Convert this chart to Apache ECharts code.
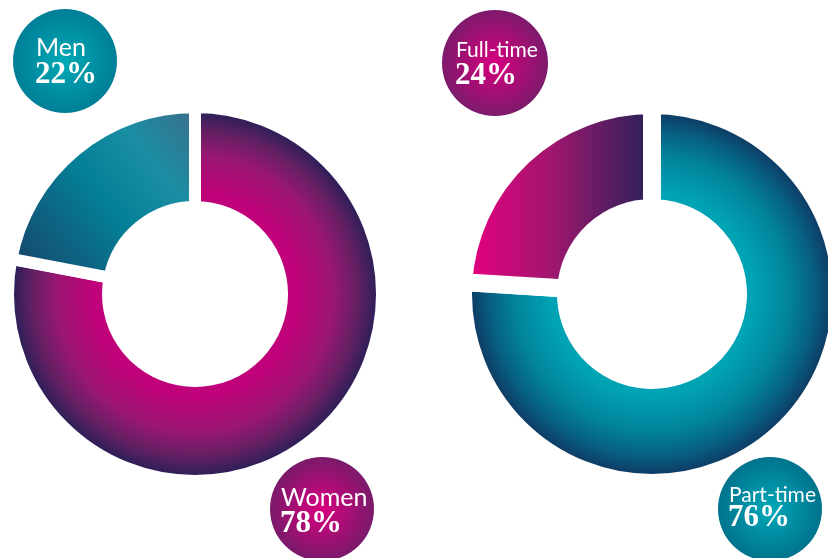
<!DOCTYPE html>
<html>
<head>
<meta charset="utf-8">
<script src="https://cdn.jsdelivr.net/npm/echarts@6/dist/echarts.min.js"></script>
<style>
html,body{margin:0;padding:0;background:#fff;}
#chart{width:828px;height:558px;}
</style>
</head>
<body>
<div id="chart"></div>
<script>
// ---- data ----
const genderCategories = ['Women', 'Men'];
const genderValues = [78, 22];
const contractCategories = ['Part-time', 'Full-time'];
const contractValues = [76, 24];

// ---- styling ----
const L = { cx: 195, cy: 294, R: 181, r: 93, gap: 12 };
const Rt = { cx: 652, cy: 294, R: 180, r: 95, gap: 18 };

function radial(c, stops) {
  return { type: 'radial', x: c.cx, y: c.cy, r: c.R, global: true,
    colorStops: stops.map(s => ({ offset: s[0], color: s[1] })) };
}
function bubbleFill(inner, outer) {
  return { type: 'radial', x: 0.5, y: 0.5, r: 0.5,
    colorStops: [{ offset: 0, color: inner }, { offset: 1, color: outer }] };
}

const genderColors = {
  Women: radial(L, [[0, '#c2007a'], [0.56, '#c0027a'], [0.76, '#9b1672'], [0.9, '#632063'], [1, '#2f1f58']]),
  Men: { type: 'linear', x: 20, y: 260, x2: 200, y2: 120, global: true,
    colorStops: [{ offset: 0, color: '#164a6e' }, { offset: 0.45, color: '#047f97' }, { offset: 0.72, color: '#1a8ea3' }, { offset: 1, color: '#3a6f8c' }] }
};
const contractColors = {
  'Part-time': radial(Rt, [[0, '#00a5b5'], [0.56, '#00a3b4'], [0.76, '#02849c'], [0.9, '#075f82'], [1, '#0e3d66']]),
  'Full-time': { type: 'linear', x: 472, y: 0, x2: 643, y2: 0, global: true,
    colorStops: [{ offset: 0, color: '#e2007f' }, { offset: 0.45, color: '#a3166f' }, { offset: 1, color: '#32205a' }] }
};

function pieSeries(c, cats, vals, colors) {
  return {
    type: 'pie',
    center: [c.cx, c.cy],
    radius: [c.r - c.gap / 2, c.R + c.gap / 2],
    startAngle: 90,
    clockwise: true,
    silent: true,
    label: { show: false },
    labelLine: { show: false },
    emphasis: { disabled: true },
    itemStyle: { borderColor: '#ffffff', borderWidth: c.gap },
    data: cats.map((n, i) => ({ name: n, value: vals[i], itemStyle: { color: colors[n] } }))
  };
}

function bubble(cx, cy, rad, fill, title, pct, tx, tfs, ty, py) {
  return [
    { type: 'circle', z: 100, shape: { cx: cx, cy: cy, r: rad }, style: { fill: fill } },
    { type: 'text', z: 101, x: tx, y: ty, style: { text: title, fill: '#ffffff',
      font: 'normal ' + tfs + 'px Lato, "Noto Sans", sans-serif', textAlign: 'left', textVerticalAlign: 'middle' } },
    { type: 'text', z: 101, x: tx - 1, y: py, style: { text: pct + '%', fill: '#ffffff',
      font: 'bold 31px "Liberation Serif", "DejaVu Serif", serif', textAlign: 'left', textVerticalAlign: 'middle' } }
  ];
}

const chart = echarts.init(document.getElementById('chart'), null, { renderer: 'canvas' });
const gi = n => genderCategories.indexOf(n);
const ci = n => contractCategories.indexOf(n);
chart.setOption({
  animation: false,
  backgroundColor: '#ffffff',
  series: [
    pieSeries(L, genderCategories, genderValues, genderColors),
    pieSeries(Rt, contractCategories, contractValues, contractColors)
  ],
  graphic: { elements: [].concat(
    bubble(65, 61, 52, bubbleFill('#00a9b6', '#007f97'), 'Men', genderValues[gi('Men')], 36, 25, 48, 75),
    bubble(322, 509, 52, bubbleFill('#d8007f', '#7a1a6a'), 'Women', genderValues[gi('Women')], 281, 25, 498, 524),
    bubble(495, 63, 53, bubbleFill('#d8007f', '#7d1a6c'), 'Full-time', contractValues[ci('Full-time')], 456, 21, 50, 76),
    bubble(770, 509, 52, bubbleFill('#00a9b8', '#00738e'), 'Part-time', contractValues[ci('Part-time')], 729, 21, 495, 518)
  ) }
});
</script>
</body>
</html>
